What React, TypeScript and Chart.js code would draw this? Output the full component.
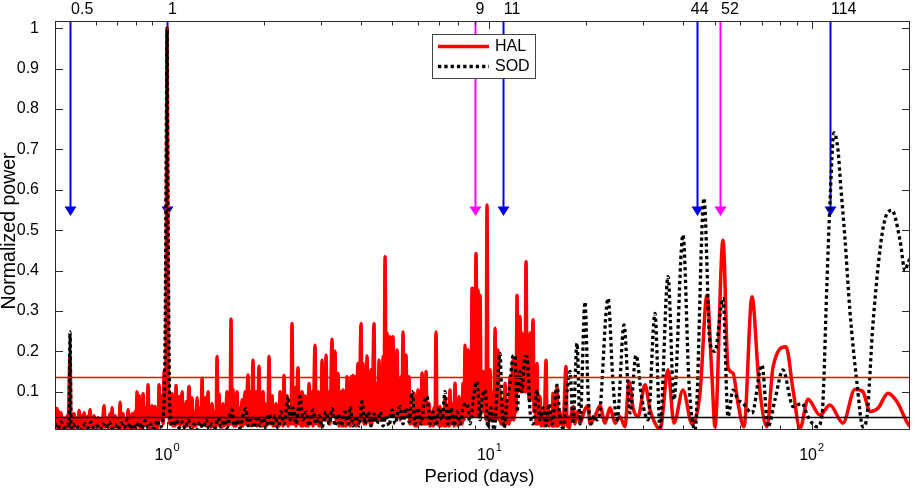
import { useEffect, useRef } from "react"
import Chart from "chart.js/auto"

// [period (days), normalized power]
const halSpectrum: [number, number][] = [
  [0.449, 0.06], [0.4522, 0.012], [0.4555, 0.058], [0.4588, 0.01], [0.4621, 0.05], [0.4656, 0.012],
  [0.4689, 0.047], [0.4723, 0.01], [0.4792, 0.035], [0.4826, 0.01], [0.4895, 0.04], [0.493, 0.01],
  [0.5, 0.19], [0.5036, 0.01], [0.5072, 0.03], [0.5108, 0.01], [0.5145, 0.045], [0.5183, 0.012],
  [0.5258, 0.035], [0.5296, 0.01], [0.5334, 0.053], [0.5372, 0.012], [0.5449, 0.04], [0.5488, 0.01],
  [0.5528, 0.048], [0.5567, 0.012], [0.5648, 0.038], [0.5688, 0.01], [0.577, 0.055], [0.5811, 0.012],
  [0.5853, 0.035], [0.5895, 0.01], [0.5937, 0.04], [0.598, 0.01], [0.6023, 0.03], [0.6066, 0.01],
  [0.6109, 0.036], [0.6153, 0.012], [0.6241, 0.03], [0.6286, 0.01], [0.6377, 0.065], [0.6423, 0.012],
  [0.6515, 0.035], [0.6562, 0.01], [0.6656, 0.045], [0.6704, 0.012], [0.6753, 0.06], [0.6801, 0.01],
  [0.6899, 0.04], [0.6949, 0.012], [0.7047, 0.03], [0.7098, 0.01], [0.7149, 0.074], [0.72, 0.012],
  [0.7304, 0.045], [0.7356, 0.01], [0.7462, 0.03], [0.7515, 0.01], [0.7568, 0.055], [0.7622, 0.012],
  [0.7677, 0.035], [0.7732, 0.01], [0.7788, 0.045], [0.7844, 0.012], [0.7957, 0.05], [0.8013, 0.01],
  [0.807, 0.1], [0.8128, 0.03], [0.8186, 0.09], [0.8245, 0.01], [0.8304, 0.05], [0.8363, 0.012],
  [0.8423, 0.095], [0.8484, 0.02], [0.8606, 0.06], [0.8668, 0.015], [0.873, 0.117], [0.8793, 0.012],
  [0.8857, 0.04], [0.892, 0.01], [0.8984, 0.065], [0.9048, 0.012], [0.9178, 0.063], [0.9244, 0.01],
  [0.931, 0.04], [0.9377, 0.012], [0.9444, 0.117], [0.9512, 0.03], [0.9649, 0.09], [0.9718, 0.02],
  [0.9788, 0.15], [0.9858, 0.05], [0.9929, 0.2], [1.0, 1.0], [1.0072, 0.2], [1.0144, 0.05],
  [1.0217, 0.02], [1.0363, 0.095], [1.0437, 0.015], [1.0513, 0.05], [1.0588, 0.015], [1.0664, 0.115],
  [1.074, 0.02], [1.0896, 0.088], [1.0974, 0.015], [1.1131, 0.1], [1.1211, 0.02], [1.129, 0.05],
  [1.1371, 0.012], [1.1455, 0.075], [1.1537, 0.015], [1.1703, 0.113], [1.1788, 0.02], [1.1958, 0.085],
  [1.2044, 0.012], [1.2217, 0.05], [1.2303, 0.015], [1.2391, 0.085], [1.2481, 0.02], [1.266, 0.06],
  [1.2751, 0.015], [1.2842, 0.133], [1.2934, 0.02], [1.312, 0.085], [1.3213, 0.015], [1.3404, 0.1],
  [1.35, 0.015], [1.3596, 0.04], [1.3693, 0.012], [1.3793, 0.07], [1.3892, 0.015], [1.409, 0.05],
  [1.4191, 0.012], [1.4293, 0.187], [1.4394, 0.02], [1.4497, 0.094], [1.4601, 0.015], [1.4706, 0.05],
  [1.4808, 0.012], [1.4914, 0.07], [1.5024, 0.015], [1.524, 0.05], [1.5349, 0.1], [1.5459, 0.015],
  [1.557, 0.06], [1.5682, 0.02], [1.5794, 0.28], [1.5907, 0.02], [1.6021, 0.105], [1.6136, 0.015],
  [1.6252, 0.06], [1.6368, 0.015], [1.6485, 0.1], [1.6604, 0.02], [1.6844, 0.06], [1.6965, 0.015],
  [1.7085, 0.08], [1.7208, 0.015], [1.7456, 0.1], [1.7581, 0.02], [1.7834, 0.141], [1.7962, 0.02],
  [1.8091, 0.1], [1.8221, 0.015], [1.8351, 0.06], [1.8483, 0.178], [1.8615, 0.02], [1.8883, 0.1],
  [1.9018, 0.015], [1.9155, 0.06], [1.9292, 0.163], [1.943, 0.02], [1.9569, 0.06], [1.9714, 0.015],
  [1.9855, 0.1], [2.0, 0.015], [2.0143, 0.07], [2.0287, 0.015], [2.0579, 0.06], [2.0727, 0.187],
  [2.0875, 0.02], [2.1175, 0.09], [2.1327, 0.015], [2.1478, 0.05], [2.1632, 0.015], [2.1788, 0.07],
  [2.1944, 0.015], [2.2102, 0.05], [2.226, 0.015], [2.242, 0.1], [2.2581, 0.02], [2.2742, 0.06],
  [2.2905, 0.015], [2.3067, 0.14], [2.3232, 0.02], [2.3568, 0.09], [2.3736, 0.015], [2.4078, 0.06],
  [2.4251, 0.02], [2.4424, 0.269], [2.4599, 0.02], [2.4952, 0.11], [2.5131, 0.015], [2.5493, 0.159],
  [2.5676, 0.02], [2.5862, 0.06], [2.6047, 0.015], [2.6234, 0.1], [2.6422, 0.015], [2.6802, 0.09],
  [2.6994, 0.015], [2.7188, 0.05], [2.7382, 0.015], [2.7578, 0.12], [2.7776, 0.02], [2.8176, 0.1],
  [2.8378, 0.015], [2.8786, 0.215], [2.8993, 0.02], [2.941, 0.1], [2.9621, 0.015], [2.9833, 0.06],
  [3.0047, 0.015], [3.0263, 0.178], [3.048, 0.03], [3.0698, 0.1], [3.0918, 0.03], [3.114, 0.19],
  [3.1363, 0.03], [3.1814, 0.1], [3.2043, 0.02], [3.2504, 0.23], [3.2737, 0.04], [3.3207, 0.2],
  [3.3446, 0.03], [3.3927, 0.145], [3.417, 0.015], [3.4662, 0.1], [3.4914, 0.015], [3.5164, 0.104],
  [3.5416, 0.015], [3.567, 0.09], [3.5925, 0.015], [3.6183, 0.137], [3.6442, 0.02], [3.6703, 0.1],
  [3.6966, 0.015], [3.7231, 0.137], [3.7497, 0.02], [3.7766, 0.14], [3.8037, 0.02], [3.831, 0.137],
  [3.8584, 0.015], [3.9139, 0.17], [3.942, 0.02], [3.9987, 0.269], [4.0272, 0.03], [4.0561, 0.17],
  [4.0852, 0.02], [4.1145, 0.06], [4.144, 0.02], [4.1737, 0.188], [4.2036, 0.03], [4.2337, 0.08],
  [4.264, 0.02], [4.2946, 0.154], [4.3251, 0.02], [4.3873, 0.269], [4.4188, 0.03], [4.4834, 0.121],
  [4.5156, 0.03], [4.548, 0.178], [4.5805, 0.03], [4.6133, 0.1], [4.6464, 0.03], [4.6797, 0.187],
  [4.7132, 0.03], [4.747, 0.434], [4.781, 0.1], [4.8153, 0.245], [4.8498, 0.08], [4.9196, 0.236],
  [4.9549, 0.08], [5.0261, 0.236], [5.062, 0.08], [5.0983, 0.15], [5.1349, 0.06], [5.1717, 0.203],
  [5.2087, 0.05], [5.246, 0.1], [5.2836, 0.03], [5.3215, 0.137], [5.3597, 0.05], [5.3981, 0.248],
  [5.4367, 0.05], [5.5149, 0.191], [5.5544, 0.04], [5.6343, 0.137], [5.6747, 0.02], [5.7564, 0.06],
  [5.7977, 0.02], [5.8391, 0.096], [5.881, 0.015], [5.9231, 0.05], [5.9656, 0.015], [6.0085, 0.104],
  [6.0516, 0.02], [6.0954, 0.07], [6.1391, 0.02], [6.1831, 0.146], [6.2274, 0.02], [6.272, 0.08],
  [6.317, 0.02], [6.3623, 0.15], [6.4079, 0.02], [6.5001, 0.071], [6.5464, 0.015], [6.6406, 0.05],
  [6.6882, 0.015], [6.7361, 0.06], [6.7844, 0.02], [6.8331, 0.248], [6.8821, 0.02], [6.9315, 0.05],
  [6.9812, 0.015], [7.0307, 0.063], [7.0811, 0.015], [7.1829, 0.05], [7.2345, 0.015], [7.2864, 0.088],
  [7.3386, 0.015], [7.4442, 0.06], [7.4976, 0.015], [7.5509, 0.104], [7.605, 0.02], [7.7147, 0.07],
  [7.77, 0.015], [7.8257, 0.121], [7.8818, 0.02], [7.9383, 0.06], [7.9968, 0.015], [8.0541, 0.088],
  [8.1118, 0.02], [8.17, 0.06], [8.2286, 0.02], [8.2876, 0.121], [8.347, 0.03], [8.4068, 0.215],
  [8.467, 0.04], [8.5889, 0.203], [8.6505, 0.05], [8.7125, 0.1], [8.775, 0.05], [8.8378, 0.356],
  [8.9012, 0.2], [8.965, 0.356], [9.0293, 0.15], [9.094, 0.442], [9.1592, 0.2], [9.225, 0.352],
  [9.2911, 0.2], [9.3577, 0.339], [9.4248, 0.1], [9.4925, 0.08], [9.5606, 0.15], [9.629, 0.05],
  [9.698, 0.08], [9.7657, 0.03], [9.8357, 0.562], [9.906, 0.03], [9.977, 0.08], [10.05, 0.154],
  [10.12, 0.03], [10.27, 0.1], [10.34, 0.03], [10.42, 0.257], [10.49, 0.03], [10.64, 0.203],
  [10.72, 0.03], [10.79, 0.104], [10.87, 0.02], [11.03, 0.08], [11.11, 0.02], [11.19, 0.121],
  [11.27, 0.02], [11.43, 0.07], [11.51, 0.02], [11.59, 0.137], [11.68, 0.03], [11.84, 0.178],
  [11.93, 0.03], [12.02, 0.1], [12.1, 0.05], [12.19, 0.339], [12.27, 0.1], [12.45, 0.286],
  [12.54, 0.1], [12.63, 0.245], [12.72, 0.1], [12.81, 0.15], [12.9, 0.1], [13.0, 0.422],
  [13.09, 0.1], [13.18, 0.236], [13.28, 0.08], [13.38, 0.245], [13.47, 0.08], [13.67, 0.278],
  [13.76, 0.05], [13.86, 0.1], [13.96, 0.02], [14.06, 0.17], [14.16, 0.02], [14.37, 0.088],
  [14.47, 0.015], [14.68, 0.05], [14.78, 0.015], [15.0, 0.178], [15.1, 0.02], [15.21, 0.063],
  [15.32, 0.015], [15.54, 0.04], [15.65, 0.015], [15.76, 0.096], [15.88, 0.015], [15.99, 0.05],
  [16.11, 0.015], [16.22, 0.112], [16.34, 0.015], [16.57, 0.05], [16.69, 0.02], [16.81, 0.038],
  [16.93, 0.012], [17.3, 0.162], [17.42, 0.015], [17.55, 0.038], [17.67, 0.01], [17.93, 0.04],
  [18.19, 0.063], [18.45, 0.02], [18.71, 0.05], [19.12, 0.022], [19.67, 0.05], [20.24, 0.066],
  [20.53, 0.02], [20.98, 0.03], [21.43, 0.045], [22.05, 0.065], [22.85, 0.022], [23.69, 0.06],
  [24.55, 0.022], [25.44, 0.038], [26.37, 0.013], [27.13, 0.125], [27.92, 0.06], [28.93, 0.038],
  [30.42, 0.117], [31.52, 0.055], [32.66, 0.022], [33.86, 0.005], [35.84, 0.154], [37.41, 0.022],
  [39.89, 0.104], [42.55, 0.02], [45.05, 0.096], [47.36, 0.339], [49.08, 0.137], [50.14, 0.013],
  [53.1, 0.475], [55.03, 0.16], [57.03, 0.146], [59.11, 0.071], [61.7, 0.013], [65.31, 0.335],
  [68.67, 0.121], [72.72, 0.013], [75.89, 0.16], [83.28, 0.211], [87.59, 0.104], [92.04, 0.009],
  [97.45, 0.081], [106.2, 0.042], [114.0, 0.067], [125.1, 0.022], [136.3, 0.106], [144.3, 0.1],
  [151.7, 0.051], [160.7, 0.059], [172.6, 0.096], [184.1, 0.075], [199.2, 0.02], [202, 0.015],
]

const sodSpectrum: [number, number][] = [
  [0.449, 0.02], [0.4588, 0.008], [0.4689, 0.025], [0.4792, 0.01], [0.4895, 0.02], [0.4965, 0.01],
  [0.5, 0.248], [0.5036, 0.01], [0.5108, 0.02], [0.522, 0.008], [0.5334, 0.015], [0.5449, 0.005],
  [0.5567, 0.02], [0.5688, 0.01], [0.5811, 0.025], [0.5937, 0.008], [0.6066, 0.015], [0.6197, 0.005],
  [0.6331, 0.02], [0.6469, 0.01], [0.6609, 0.025], [0.6753, 0.008], [0.6899, 0.018], [0.7047, 0.006],
  [0.72, 0.022], [0.7356, 0.01], [0.7515, 0.03], [0.7677, 0.008], [0.7844, 0.02], [0.8013, 0.01],
  [0.8186, 0.025], [0.8363, 0.008], [0.8545, 0.028], [0.873, 0.01], [0.892, 0.02], [0.9113, 0.008],
  [0.931, 0.03], [0.9512, 0.012], [0.9718, 0.035], [0.9858, 0.22], [0.9929, 0.6], [1.0, 1.0],
  [1.0072, 0.55], [1.0144, 0.2], [1.0217, 0.04], [1.0437, 0.015], [1.0664, 0.03], [1.0896, 0.01],
  [1.1131, 0.025], [1.1371, 0.008], [1.162, 0.03], [1.1873, 0.01], [1.213, 0.02], [1.2391, 0.006],
  [1.266, 0.025], [1.2934, 0.01], [1.3213, 0.03], [1.35, 0.008], [1.3793, 0.02], [1.409, 0.01],
  [1.4394, 0.035], [1.4706, 0.012], [1.5024, 0.03], [1.5349, 0.01], [1.5682, 0.045], [1.5907, 0.055],
  [1.6136, 0.015], [1.6485, 0.03], [1.6844, 0.01], [1.7208, 0.04], [1.7581, 0.058], [1.7834, 0.015],
  [1.8221, 0.03], [1.8615, 0.01], [1.9018, 0.04], [1.943, 0.015], [1.9855, 0.035], [2.0287, 0.01],
  [2.0727, 0.045], [2.1175, 0.015], [2.1632, 0.04], [2.2102, 0.01], [2.2581, 0.05], [2.3067, 0.02],
  [2.3736, 0.088], [2.4078, 0.03], [2.4599, 0.06], [2.5131, 0.02], [2.5862, 0.088], [2.6422, 0.03],
  [2.6994, 0.05], [2.7578, 0.015], [2.8378, 0.055], [2.8993, 0.02], [2.9621, 0.04], [3.0263, 0.012],
  [3.114, 0.05], [3.1814, 0.02], [3.2504, 0.058], [3.3207, 0.015], [3.3927, 0.045], [3.4662, 0.015],
  [3.567, 0.05], [3.6442, 0.02], [3.6966, 0.063], [3.7766, 0.015], [3.8584, 0.04], [3.942, 0.015],
  [4.0272, 0.075], [4.1145, 0.02], [4.2036, 0.05], [4.2946, 0.015], [4.3873, 0.045], [4.4834, 0.02],
  [4.5805, 0.05], [4.6797, 0.015], [4.781, 0.04], [4.8846, 0.015], [4.9903, 0.055], [5.0983, 0.02],
  [5.2087, 0.05], [5.2836, 0.063], [5.3981, 0.02], [5.5149, 0.06], [5.6343, 0.025], [5.7564, 0.1],
  [5.881, 0.02], [6.0085, 0.06], [6.1391, 0.02], [6.272, 0.07], [6.4079, 0.088], [6.5464, 0.02],
  [6.6882, 0.05], [6.8331, 0.015], [6.9812, 0.06], [7.1318, 0.03], [7.2864, 0.1], [7.4442, 0.02],
  [7.605, 0.06], [7.77, 0.015], [7.9383, 0.05], [8.1118, 0.02], [8.2876, 0.06], [8.5277, 0.071],
  [8.7125, 0.02], [8.9012, 0.08], [9.1592, 0.125], [9.3577, 0.03], [9.4925, 0.08], [9.698, 0.104],
  [9.906, 0.01], [10.12, 0.06], [10.34, 0.005], [10.57, 0.1], [10.79, 0.195], [10.95, 0.06],
  [11.11, 0.01], [11.35, 0.08], [11.59, 0.12], [11.84, 0.188], [12.02, 0.19], [12.19, 0.05],
  [12.45, 0.15], [12.63, 0.1], [12.9, 0.187], [13.09, 0.186], [13.38, 0.05], [13.67, 0.02],
  [14.06, 0.104], [14.37, 0.03], [14.68, 0.06], [15.0, 0.015], [15.32, 0.07], [15.65, 0.02],
  [16.22, 0.116], [16.57, 0.03], [16.93, 0.01], [17.42, 0.1], [17.8, 0.15], [18.19, 0.02],
  [18.71, 0.22], [19.12, 0.02], [19.81, 0.322], [20.24, 0.1], [20.68, 0.02], [21.13, 0.04],
  [21.58, 0.03], [22.05, 0.055], [23.35, 0.331], [24.2, 0.121], [24.91, 0.03], [26.18, 0.265],
  [27.33, 0.047], [28.52, 0.19], [29.77, 0.08], [31.08, 0.03], [32.66, 0.294], [33.86, 0.013],
  [35.84, 0.385], [37.41, 0.08], [39.89, 0.488], [41.65, 0.121], [43.47, 0.005], [46.36, 0.579],
  [48.39, 0.22], [50.14, 0.2], [53.1, 0.331], [55.03, 0.038], [57.03, 0.104], [59.11, 0.08],
  [61.26, 0.071], [65.31, 0.047], [70.16, 0.166], [73.23, 0.013], [76.98, 0.08], [81.51, 0.154],
  [87.59, 0.063], [93.36, 0.071], [97.45, 0.038], [103.9, 0.013], [107.7, 0.04], [111.6, 0.37],
  [114.0, 0.566], [117.3, 0.741], [120.7, 0.7], [123.4, 0.6], [126.9, 0.48], [131.5, 0.3],
  [138.3, 0.121], [144.3, 0.013], [148.5, 0.038], [155.1, 0.27], [166.6, 0.505], [177.6, 0.549],
  [188.1, 0.475], [194.9, 0.4], [199.2, 0.42], [202, 0.43],
]

const halThreshold = 0.135
const sodThreshold = 0.036

// the HAL spectrum is a solid red floor up to about this level for periods below ~9.5 days
const halFloor = 0.035
const halFloorEnd = 9.5

const markerPeriods = [0.5, 1, 9, 11, 44, 52, 114]
const markerLabels = ["0.5", "1", "9", "11", "44", "52", "114"]
const markerKinds = ["blue", "blue", "magenta", "blue", "blue", "magenta", "blue"]
const markerTip = 0.535

const yTicks = [0.1, 0.2, 0.3, 0.4, 0.5, 0.6, 0.7, 0.8, 0.9, 1]
const xMajorTicks = [1, 10, 100]
const xTickExponents = ["0", "1", "2"]

const FONT = "'Liberation Sans', Arial, Helvetica, sans-serif"
const COLORS: Record<string, string> = { blue: "#0000f0", magenta: "#ff00ff" }

const decorations = {
  id: "decorations",
  beforeDatasetsDraw(chart: any) {
    const { ctx, chartArea: a, scales } = chart
    const x = scales.x
    const y = scales.y
    const tip = y.getPixelForValue(markerTip)
    ctx.save()
    markerPeriods.forEach((p, i) => {
      const px = Math.round(x.getPixelForValue(p)) + 0.5
      const c = COLORS[markerKinds[i]]
      ctx.strokeStyle = c
      ctx.fillStyle = c
      ctx.lineWidth = 2
      ctx.beginPath()
      ctx.moveTo(px, a.top)
      ctx.lineTo(px, tip - 8)
      ctx.stroke()
      ctx.beginPath()
      ctx.moveTo(px - 6, tip - 9.5)
      ctx.lineTo(px + 6, tip - 9.5)
      ctx.lineTo(px, tip)
      ctx.closePath()
      ctx.fill()
    })
    ctx.restore()
  },
  afterDatasetsDraw(chart: any) {
    const { ctx, chartArea: a, scales } = chart
    const y = scales.y
    ctx.save()
    ctx.beginPath()
    ctx.rect(a.left, a.top, a.right - a.left, a.bottom - a.top)
    ctx.clip()
    ctx.lineWidth = 1.7
    ctx.strokeStyle = "#ff0000"
    let py = y.getPixelForValue(halThreshold)
    ctx.beginPath()
    ctx.moveTo(a.left, py)
    ctx.lineTo(a.right, py)
    ctx.stroke()
    ctx.lineWidth = 1.5
    ctx.strokeStyle = "#000000"
    py = y.getPixelForValue(sodThreshold)
    ctx.beginPath()
    ctx.moveTo(a.left, py)
    ctx.lineTo(a.right, py)
    ctx.stroke()
    ctx.restore()
  },
  afterDraw(chart: any) {
    const { ctx, chartArea: a, scales } = chart
    const x = scales.x
    const y = scales.y
    ctx.save()

    // axes box
    ctx.strokeStyle = "#2a2a2a"
    ctx.lineWidth = 1
    ctx.strokeRect(a.left + 0.5, a.top + 0.5, a.right - a.left - 1, a.bottom - a.top - 1)

    // inward ticks on all four sides
    ctx.beginPath()
    for (let d = -1; d <= 2; d++) {
      for (let m = 1; m <= 9; m++) {
        const v = m * Math.pow(10, d)
        if (v < x.min || v > x.max) continue
        const px = Math.round(x.getPixelForValue(v)) + 0.5
        const len = m === 1 ? 8 : 4.5
        ctx.moveTo(px, a.bottom)
        ctx.lineTo(px, a.bottom - len)
        ctx.moveTo(px, a.top)
        ctx.lineTo(px, a.top + len)
      }
    }
    yTicks.forEach((v) => {
      const py = Math.round(y.getPixelForValue(v)) + 0.5
      ctx.moveTo(a.left, py)
      ctx.lineTo(a.left + 8, py)
      ctx.moveTo(a.right, py)
      ctx.lineTo(a.right - 8, py)
    })
    ctx.stroke()

    // x tick labels 10^n
    ctx.fillStyle = "#000"
    ctx.textBaseline = "alphabetic"
    ctx.textAlign = "left"
    xMajorTicks.forEach((v, i) => {
      const px = x.getPixelForValue(v)
      ctx.font = `16px ${FONT}`
      const wb = ctx.measureText("10").width
      ctx.font = `11px ${FONT}`
      const we = ctx.measureText(xTickExponents[i]).width
      const start = px - (wb + we + 1) / 2
      ctx.font = `16px ${FONT}`
      ctx.fillText("10", start, 460)
      ctx.font = `11px ${FONT}`
      ctx.fillText(xTickExponents[i], start + wb + 1, 451)
    })

    // axis titles
    ctx.textAlign = "center"
    ctx.textBaseline = "middle"
    ctx.font = `18.5px ${FONT}`
    ctx.fillText("Period (days)", (a.left + a.right) / 2 - 3, 477)
    ctx.save()
    ctx.font = `19.5px ${FONT}`
    ctx.translate(10, 231)
    ctx.rotate(-Math.PI / 2)
    ctx.fillText("Normalized power", 0, 0)
    ctx.restore()

    // period labels above the markers
    ctx.font = `16px ${FONT}`
    ctx.textBaseline = "alphabetic"
    markerPeriods.forEach((p, i) => {
      const px = x.getPixelForValue(p)
      if (markerLabels[i] === "44") {
        ctx.textAlign = "center"
        ctx.fillText(markerLabels[i], px + 3, 14)
      } else {
        ctx.textAlign = "left"
        ctx.fillText(markerLabels[i], px + 1, 14)
      }
    })

    // legend
    const lx = 432
    const ly = 34
    ctx.fillStyle = "#fff"
    ctx.fillRect(lx, ly, 103, 44)
    ctx.strokeStyle = "#444"
    ctx.lineWidth = 1
    ctx.strokeRect(lx + 0.5, ly + 0.5, 103, 44)
    ctx.lineWidth = 3.5
    ctx.strokeStyle = "#ff0000"
    ctx.beginPath()
    ctx.moveTo(438, 46.5)
    ctx.lineTo(489, 46.5)
    ctx.stroke()
    ctx.strokeStyle = "#000"
    ctx.setLineDash([3.3, 3])
    ctx.beginPath()
    ctx.moveTo(438, 66.5)
    ctx.lineTo(489, 66.5)
    ctx.stroke()
    ctx.setLineDash([])
    ctx.fillStyle = "#000"
    ctx.font = `16px ${FONT}`
    ctx.textAlign = "left"
    ctx.textBaseline = "middle"
    ctx.fillText("HAL", 495, 47)
    ctx.fillText("SOD", 495, 67)

    ctx.restore()
  },
}

export default function App() {
  const canvasRef = useRef<HTMLCanvasElement>(null)

  useEffect(() => {
    if (!canvasRef.current) return
    const chart = new Chart(canvasRef.current, {
      type: "line",
      data: {
        datasets: [
          {
            label: "SOD",
            data: sodSpectrum.map(([p, v]) => ({ x: p, y: v })),
            borderColor: "#000000",
            borderWidth: 3.3,
            borderDash: [3.3, 3],
            pointRadius: 0,
            cubicInterpolationMode: "monotone",
            order: 0,
          },
          {
            label: "HAL",
            data: halSpectrum.map(([p, v]) => ({ x: p, y: v })),
            borderColor: "#ff0000",
            borderWidth: 3.5,
            pointRadius: 0,
            cubicInterpolationMode: "monotone",
            backgroundColor: "rgba(255,0,0,0)",
            fill: { value: halFloor },
            segment: {
              backgroundColor: (c: any) => (c.p1.parsed.x <= halFloorEnd ? "#ff0000" : "rgba(255,0,0,0)"),
            },
            order: 1,
          },
        ],
      },
      options: {
        animation: false,
        responsive: true,
        maintainAspectRatio: false,
        events: [],
        layout: { padding: { left: 0, top: 21, right: 3, bottom: 0 } },
        plugins: { legend: { display: false }, tooltip: { enabled: false } },
        scales: {
          x: {
            type: "logarithmic",
            min: 0.449,
            max: 202,
            grid: { display: false },
            border: { display: false },
            ticks: { display: false },
            afterBuildTicks: (axis: any) => {
              axis.ticks = xMajorTicks.map((v) => ({ value: v, major: true }))
            },
            afterFit: (axis: any) => {
              axis.height = 59
            },
          },
          y: {
            type: "linear",
            min: 0.005,
            max: 1.018,
            grid: { display: false },
            border: { display: false },
            afterBuildTicks: (axis: any) => {
              axis.ticks = yTicks.map((v) => ({ value: v }))
            },
            afterFit: (axis: any) => {
              axis.width = 55
            },
            ticks: {
              padding: 8,
              color: "#000",
              font: { family: FONT, size: 16 },
              callback: (v: any) => (Number(v) === 1 ? "1" : Number(v).toFixed(1)),
            },
          },
        },
      },
      plugins: [decorations],
    })
    return () => chart.destroy()
  }, [])

  return (
    <div style={{ position: "absolute", left: 0, top: 0, width: 913, height: 489, background: "#fff" }}>
      <canvas ref={canvasRef}></canvas>
    </div>
  )
}
